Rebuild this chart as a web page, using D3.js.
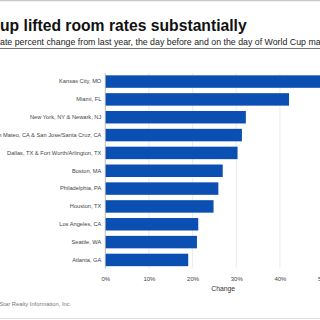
<!DOCTYPE html>
<html><head><meta charset="utf-8">
<script src="https://cdn.jsdelivr.net/npm/d3@7"></script>
<style>html,body{margin:0;padding:0;background:#fff;overflow:hidden}svg{display:block;font-family:"Liberation Sans",Arial,sans-serif}</style>
</head><body>
<svg id="c" width="320" height="320"></svg>
<script>
const titleText = "World Cup lifted room rates substantially";
const subtitleText = "Average daily rate percent change from last year, the day before and on the day of World Cup matches";
const sourceText = "Star Realty Information, Inc.";
const axisTitle = "Change";
const cities = ["Kansas City, MO","Miami, FL","New York, NY & Newark, NJ","San Mateo, CA & San Jose/Santa Cruz, CA","Dallas, TX & Fort Worth/Arlington, TX","Boston, MA","Philadelphia, PA","Houston, TX","Los Angeles, CA","Seattle, WA","Atlanta, GA"];
const changes = [55.0, 42.1, 32.2, 31.3, 30.3, 26.9, 25.9, 24.8, 21.3, 21.0, 19.0];
const tickValues = [0, 10, 20, 30, 40, 50];

const svg = d3.select("#c");
svg.append("rect").attr("width",320).attr("height",320).attr("fill","#fff");
svg.append("line").attr("x1",0).attr("x2",320).attr("y1",0.5).attr("y2",0.5).attr("stroke","#c8c8c8").attr("stroke-width",1.5);
svg.append("line").attr("x1",0).attr("x2",320).attr("y1",318.5).attr("y2",318.5).attr("stroke","#dcdcdc").attr("stroke-width",1);

function measure(str, size, weight){
  const t = svg.append("text").attr("font-size",size).attr("font-weight",weight).text(str);
  const w = t.node().getComputedTextLength(); t.remove(); return w;
}
svg.append("text").attr("x", -measure("World C",15.7,"bold")).attr("y",30.5)
  .attr("font-size",15.7).attr("font-weight","bold").attr("fill","#111").text(titleText);
svg.append("text").attr("x", -measure("Average daily r",8.8,"normal")).attr("y",45)
  .attr("font-size",8.8).attr("fill","#222").text(subtitleText);
svg.append("line").attr("x1",0).attr("x2",320).attr("y1",48.5).attr("y2",48.5).attr("stroke","#777").attr("stroke-width",1);

const x = d3.scaleLinear().domain([0,54]).range([105.3,341]);
const y = d3.scaleBand().domain(cities).range([73,268.5]).paddingInner(0.3).paddingOuter(0.13);

svg.append("g").selectAll("line").data(tickValues.slice(1)).join("line")
  .attr("x1",d=>x(d)).attr("x2",d=>x(d)).attr("y1",73).attr("y2",268.5)
  .attr("stroke","#e6e6e6").attr("stroke-width",0.8);

svg.append("g").selectAll("rect").data(cities).join("rect")
  .attr("x",x(0)).attr("y",d=>y(d)).attr("height",y.bandwidth())
  .attr("width",(d,i)=>x(changes[i])-x(0)).attr("fill","#0b4fb3");

svg.append("line").attr("x1",x(0)).attr("x2",x(0)).attr("y1",73).attr("y2",268.5).attr("stroke","#aaa").attr("stroke-width",0.8);

const ya = d3.axisLeft(y).tickSize(0).tickPadding(4);
const gy = svg.append("g").attr("transform",`translate(${x(0)},0)`).call(ya);
gy.select(".domain").remove();
gy.selectAll("text").attr("font-size",5.7).attr("fill","#444").attr("font-family","Liberation Sans, Arial, sans-serif");

const xa = d3.axisBottom(x).tickValues(tickValues).tickFormat(d=>d+"%").tickSize(0).tickPadding(6);
const gx = svg.append("g").attr("transform","translate(0,271)").call(xa);
gx.select(".domain").remove();
gx.selectAll("text").attr("font-size",6).attr("fill","#444").attr("font-family","Liberation Sans, Arial, sans-serif");

svg.append("text").attr("x",(x.range()[0]+x.range()[1])/2).attr("y",290.5).attr("text-anchor","middle")
  .attr("font-size",6.8).attr("fill","#333").text(axisTitle);
svg.append("text").attr("x",-0.5).attr("y",306).attr("font-size",5.8).attr("fill","#777").text(sourceText);
</script>
</body></html>
